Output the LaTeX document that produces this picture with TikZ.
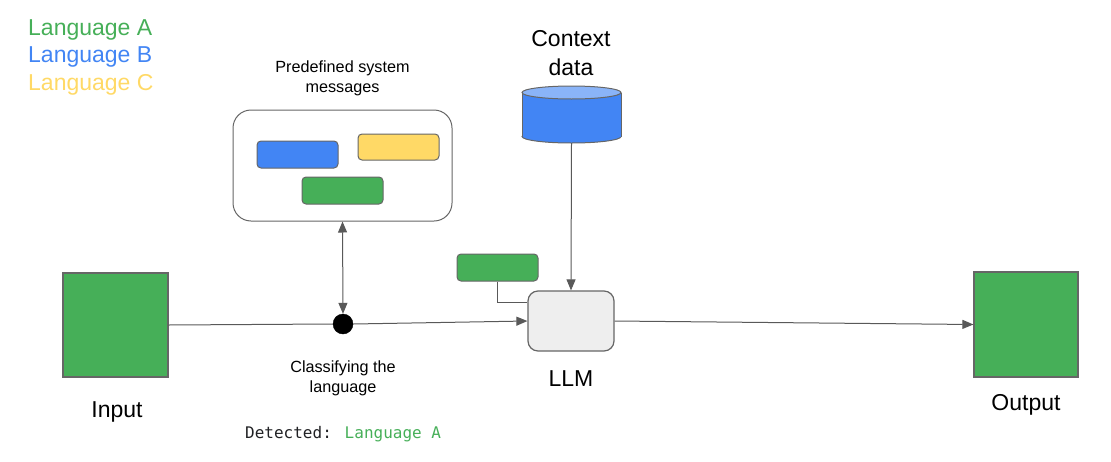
\documentclass[tikz,border=0pt]{standalone}
\usepackage{fontspec}
\setmainfont{Liberation Sans}
\newfontfamily\monof{DejaVu Sans Mono}
\usetikzlibrary{arrows.meta}
\definecolor{ggreen}{HTML}{46AF58}
\definecolor{gblue}{HTML}{4285F4}
\definecolor{lblue}{HTML}{8AB4F8}
\definecolor{gyellow}{HTML}{FFD966}
\definecolor{edge}{HTML}{666666}
\definecolor{lline}{HTML}{595959}
\definecolor{llmfill}{HTML}{EEEEEE}
\tikzset{
  big/.style={font=\fontsize{23}{28}\selectfont, inner sep=0pt},
  small/.style={font=\fontsize{16.2}{20}\selectfont, inner sep=0pt, align=center},
  sq/.style={draw=edge, fill=ggreen, line width=1.2pt, inner sep=0pt},
  bar/.style={draw=edge, line width=1pt, rounded corners=4pt, inner sep=0pt, minimum width=81pt, minimum height=27pt},
  conn/.style={draw=lline, line width=1pt},
  tip/.style={-{Triangle[length=11pt,width=9pt]}},
}
\begin{document}
\begin{tikzpicture}[x=1pt,y=-1pt]
\useasboundingbox (0,0) rectangle (1111,461);
% legend
\node[big, anchor=west, text=ggreen] (la) at (28,29.5) {Language A};
\node[big, anchor=west, text=gblue] (lb) at (28,57) {Language B};
\node[big, anchor=west, text=gyellow] (lc) at (28,84.5) {Language C};
% predefined messages
\node[small] (pdt) at (342.5,78) {Predefined system\\messages};
\node[draw=edge, line width=1pt, rounded corners=18pt, minimum width=219pt, minimum height=111pt, inner sep=0pt] (msg) at (342.5,165.5) {};
\node[bar, fill=gblue] (bb) at (297.5,154.5) {};
\node[bar, fill=gyellow, minimum height=26pt] (yb) at (398.5,147) {};
\node[bar, fill=ggreen] (gb) at (342.5,190.5) {};
% input / output
\node[sq, minimum width=105pt, minimum height=104pt] (in) at (115.5,325) {};
\node[big] (intxt) at (117,411.5) {Input};
\node[sq, minimum width=104pt, minimum height=105pt] (out) at (1026,324.5) {};
\node[big] (outtxt) at (1026,404.5) {Output};
% classifier dot
\node[circle, fill=black, draw=black, minimum size=20pt, inner sep=0pt] (dot) at (343,324) {};
\node[small] (cls) at (343,378) {Classifying the\\language};
\node[inner sep=0pt, anchor=west, font=\monof\fontsize{16}{19}\selectfont] (det) at (245,434) {\textcolor[HTML]{202124}{Detected:} \textcolor{ggreen}{Language A}};
% LLM
\node[draw=edge, fill=llmfill, line width=1.2pt, rounded corners=10pt, minimum width=86pt, minimum height=60pt, inner sep=0pt] (llm) at (571,321) {};
\node[big] (llmtxt) at (571,378.5) {LLM};
\node[bar, fill=ggreen] (sg) at (497.5,267.5) {};
% context data cylinder
\node[big, align=center, font=\fontsize{23}{29}\selectfont] (ctxtxt) at (571,53.5) {Context\\data};
\filldraw[fill=gblue, draw=edge, line width=1pt] (571.5,136.5) ellipse [x radius=49.5, y radius=6.5];
\fill[gblue] (522,92.5) rectangle (621,136.5);
\draw[edge, line width=1pt] (522,92.5) -- (522,136.5) (621,92.5) -- (621,136.5);
\filldraw[fill=lblue, draw=edge, line width=1pt] (571.5,92.5) ellipse [x radius=49.5, y radius=6.5];
\node[inner sep=0pt, minimum width=99pt, minimum height=57pt] (ctx) at (571.5,114.5) {};
% connectors
\draw[conn] (in.east) -- (dot.west);
\draw[conn, tip] (dot.east) -- (llm.west |- 0,321);
\draw[conn, {Triangle[length=11pt,width=9pt]}-{Triangle[length=11pt,width=9pt]}] (msg.south) -- (dot.north);
\draw[conn, tip] (ctx.south) -- (llm.north);
\draw[conn] (sg.south) |- (llm.west |- 0,302);
\draw[conn, tip] (llm.east) -- (out.west);
\end{tikzpicture}
\end{document}
